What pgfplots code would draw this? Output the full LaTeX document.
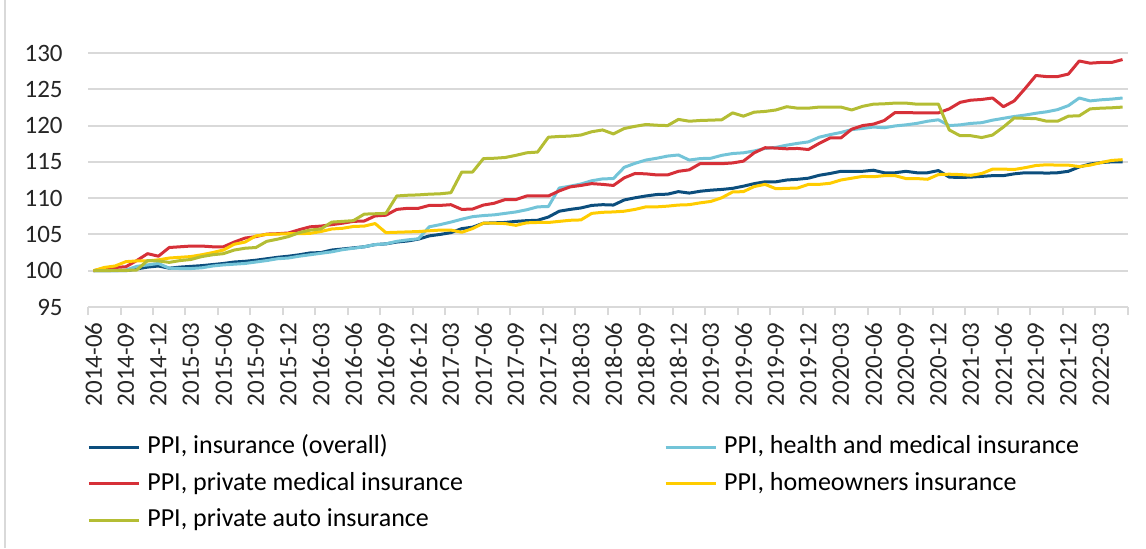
\documentclass[border=0pt]{standalone}
\usepackage{fontspec}
\setmainfont{Carlito}
\usepackage{pgfplots}
\usepackage{pgfplotstable}
\pgfplotsset{compat=1.18}
\definecolor{cov}{RGB}{12,78,125}
\definecolor{chm}{RGB}{115,196,216}
\definecolor{cpm}{RGB}{214,48,56}
\definecolor{cho}{RGB}{255,204,0}
\definecolor{cau}{RGB}{180,189,52}
\definecolor{gridgray}{RGB}{217,217,217}
\definecolor{txt}{RGB}{38,38,38}

\pgfplotstableread{
i ov hm pm ho au
0 100 100 100 100 100
1 100 100 100.3 100.45 100
2 100 100 100.45 100.65 100.05
3 100 100.1 100.55 101.25 100.05
4 100.25 100.6 101.4 101.35 100.1
5 100.5 100.8 102.35 101.35 101.4
6 100.65 101.0 102.0 101.5 101.35
7 100.35 100.35 103.2 101.75 101.15
8 100.5 100.3 103.3 101.85 101.4
9 100.6 100.3 103.4 101.95 101.55
10 100.7 100.4 103.4 102.2 101.95
11 100.85 100.65 103.3 102.5 102.2
12 101.0 100.8 103.3 102.85 102.35
13 101.2 100.9 103.95 103.65 102.85
14 101.3 101.0 104.5 103.95 103.1
15 101.45 101.2 104.7 104.8 103.2
16 101.65 101.4 105.05 105.0 104.05
17 101.85 101.65 105.1 105.05 104.35
18 102.0 101.75 105.2 105.1 104.7
19 102.2 102.0 105.65 105.1 105.25
20 102.45 102.2 106.05 105.15 105.6
21 102.5 102.4 106.15 105.4 105.75
22 102.85 102.6 106.35 105.75 106.7
23 103.0 102.9 106.55 105.85 106.8
24 103.15 103.1 106.8 106.1 106.9
25 103.3 103.3 106.85 106.15 107.8
26 103.6 103.6 107.55 106.5 107.85
27 103.7 103.7 107.65 105.25 107.9
28 103.95 104.05 108.45 105.3 110.3
29 104.1 104.25 108.6 105.35 110.4
30 104.35 104.4 108.6 105.4 110.45
31 104.8 106.05 109.0 105.5 110.55
32 105.0 106.35 109.0 105.6 110.6
33 105.25 106.7 109.1 105.6 110.75
34 105.8 107.1 108.45 105.3 113.6
35 106.0 107.45 108.5 105.8 113.6
36 106.55 107.6 109.05 106.55 115.45
37 106.6 107.7 109.3 106.55 115.5
38 106.65 107.9 109.8 106.5 115.6
39 106.8 108.1 109.8 106.25 115.9
40 106.9 108.4 110.3 106.6 116.25
41 106.95 108.8 110.3 106.65 116.35
42 107.4 108.85 110.3 106.65 118.4
43 108.2 111.4 111.0 106.8 118.5
44 108.45 111.65 111.55 106.95 118.55
45 108.65 111.95 111.75 107.0 118.7
46 109.0 112.4 112.0 107.9 119.15
47 109.1 112.65 111.9 108.05 119.4
48 109.05 112.7 111.75 108.1 118.85
49 109.75 114.25 112.8 108.2 119.6
50 110.05 114.8 113.4 108.45 119.9
51 110.3 115.25 113.35 108.8 120.15
52 110.5 115.5 113.2 108.8 120.05
53 110.55 115.8 113.2 108.9 120.0
54 110.9 115.95 113.7 109.05 120.85
55 110.7 115.25 113.9 109.1 120.6
56 110.95 115.45 114.75 109.35 120.7
57 111.1 115.5 114.75 109.55 120.75
58 111.2 115.9 114.75 110.05 120.8
59 111.35 116.15 114.85 110.85 121.75
60 111.65 116.25 115.1 110.9 121.3
61 112.0 116.5 116.25 111.6 121.85
62 112.25 116.85 116.95 111.9 121.95
63 112.25 117.0 116.9 111.3 122.15
64 112.5 117.3 116.8 111.35 122.6
65 112.6 117.55 116.85 111.4 122.4
66 112.75 117.75 116.7 111.9 122.4
67 113.15 118.4 117.55 111.9 122.55
68 113.4 118.75 118.3 112.05 122.55
69 113.7 119.05 118.3 112.5 122.55
70 113.7 119.45 119.5 112.75 122.15
71 113.7 119.6 120.0 113.0 122.65
72 113.85 119.8 120.2 112.95 122.95
73 113.5 119.7 120.7 113.1 123.0
74 113.5 119.95 121.8 113.1 123.1
75 113.7 120.1 121.8 112.7 123.1
76 113.5 120.3 121.75 112.7 122.95
77 113.5 120.6 121.75 112.6 122.95
78 113.8 120.8 121.75 113.25 122.95
79 112.9 120.0 122.3 113.3 119.4
80 112.85 120.1 123.2 113.25 118.6
81 112.9 120.3 123.5 113.15 118.6
82 113.0 120.4 123.6 113.4 118.35
83 113.1 120.75 123.8 114.0 118.7
84 113.1 121.0 122.6 114.0 119.8
85 113.35 121.25 123.4 113.95 121.05
86 113.5 121.45 125.1 114.2 121.0
87 113.5 121.7 126.9 114.5 120.95
88 113.45 121.9 126.75 114.6 120.6
89 113.5 122.2 126.75 114.55 120.6
90 113.7 122.75 127.1 114.55 121.3
91 114.3 123.8 128.9 114.35 121.35
92 114.7 123.4 128.6 114.55 122.3
93 114.9 123.55 128.7 114.9 122.4
94 115.0 123.65 128.7 115.2 122.45
95 115.0 123.8 129.1 115.3 122.55
}\data

\begin{document}
\begin{tikzpicture}
\useasboundingbox (-44pt,-120.5pt) rectangle (529pt,153.5pt);
\draw[gridgray, line width=1pt] (-41.5pt,-120.5pt) -- (-41.5pt,153.5pt);
\begin{axis}[
  at={(0pt,0pt)}, anchor=south west,
  scale only axis, width=520pt, height=127pt,
  xmin=-0.5, xmax=95.5, ymin=95, ymax=130,
  axis x line*=bottom, axis y line*=left,
  x axis line style={gridgray, line width=1pt, -},
  y axis line style={draw=none},
  ytick={95,100,...,130},
  ymajorgrids, major grid style={gridgray, line width=1pt},
  xtick={0,3,...,93},
  xticklabels={2014-06,2014-09,2014-12,2015-03,2015-06,2015-09,2015-12,2016-03,2016-06,2016-09,2016-12,2017-03,2017-06,2017-09,2017-12,2018-03,2018-06,2018-09,2018-12,2019-03,2019-06,2019-09,2019-12,2020-03,2020-06,2020-09,2020-12,2021-03,2021-06,2021-09,2021-12,2022-03},
  minor xtick={-0.5,2.5,...,95.5},
  major tick length=0pt, minor tick length=4pt,
  tick align=outside,
  minor tick style={gridgray, line width=1pt},
  /pgf/number format/assume math mode=true,
  tick label style={font=\fontsize{12.5}{15}\selectfont, text=txt},
  xticklabel style={anchor=east, inner sep=0pt, yshift=-7.5pt, rotate=90},
  yticklabel style={anchor=east, inner sep=0pt, xshift=-12.5pt},
  legend columns=2,
  legend cell align=left,
  legend style={at={(axis description cs:-0.001,-0.5016)}, anchor=north west,
    draw=none, fill=none, inner sep=0pt, row sep=5.75pt,
    font=\fontsize{13}{15.6}\selectfont,
    nodes={inner sep=0pt, text height=9.5pt, text depth=3pt, text=black},
    /tikz/every odd column/.append style={column sep=3.5pt},
    /tikz/every even column/.append style={column sep=100.5pt}},
  legend image code/.code={\draw[#1] (0pt,0pt) -- (25pt,0pt);},
  every axis plot/.append style={line width=1.5pt, line join=round, mark=none},
]
\addplot[cov] table[x=i, y=ov] {\data};
\addlegendentry{PPI, insurance (overall)}
\addplot[chm] table[x=i, y=hm] {\data};
\addlegendentry{PPI, health and medical insurance}
\addplot[cpm] table[x=i, y=pm] {\data};
\addlegendentry{PPI, private medical insurance}
\addplot[cho] table[x=i, y=ho] {\data};
\addlegendentry{PPI, homeowners insurance}
\addplot[cau] table[x=i, y=au] {\data};
\addlegendentry{PPI, private auto insurance}
\end{axis}
\end{tikzpicture}
\end{document}
